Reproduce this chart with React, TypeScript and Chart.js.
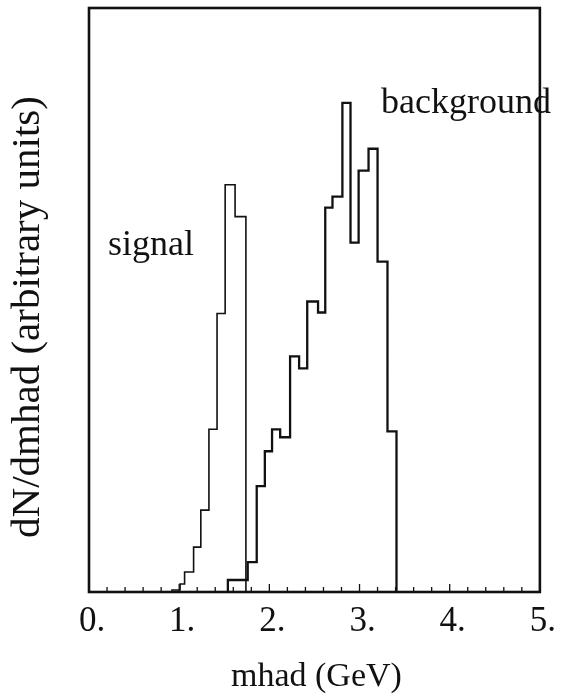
import React, { useEffect, useRef } from 'react';
import { Chart, registerables } from 'chart.js';

Chart.register(...registerables);

// Bin edges (GeV) and heights (arbitrary units)
const SIGNAL_EDGES = [0.92, 1.01, 1.06, 1.16, 1.24, 1.33, 1.42, 1.51, 1.62, 1.74];
const SIGNAL_VALUES = [2, 8, 20, 45, 82, 163, 279, 408, 376];
const BG_EDGES = [1.54, 1.76, 1.86, 1.95, 2.03, 2.12, 2.23, 2.33, 2.42, 2.54, 2.62, 2.7, 2.81, 2.9, 2.99, 3.1, 3.2, 3.31, 3.41];
const BG_VALUES = [12, 30, 106, 141, 163, 155, 236, 224, 291, 280, 385, 396, 490, 350, 422, 444, 331, 161];
const X_TICK_LABELS = ['0.', '1.', '2.', '3.', '4.', '5.'];
const X_MIN = 0;
const X_MAX = 5;
const Y_MAX = 585;
const X_TITLE = 'mhad (GeV)';
const Y_TITLE = 'dN/dmhad (arbitrary units)';
const SIGNAL_LABEL = 'signal';
const BG_LABEL = 'background';

const FONT = "'Liberation Serif', 'Times New Roman', serif";
const INK = '#111';

function outline(edges: number[], values: number[]) {
  const pts: { x: number; y: number }[] = [{ x: edges[0], y: 0 }];
  values.forEach((v, i) => {
    pts.push({ x: edges[i], y: v });
    pts.push({ x: edges[i + 1], y: v });
  });
  pts.push({ x: edges[edges.length - 1], y: 0 });
  return pts;
}

const decorPlugin = {
  id: 'decor',
  afterDatasetsDraw(chart: any) {
    const { ctx, chartArea: a, scales } = chart;
    const xs = scales.x;
    ctx.save();
    ctx.strokeStyle = INK;
    ctx.fillStyle = INK;
    // frame
    ctx.lineWidth = 2.6;
    ctx.strokeRect(a.left, a.top, a.right - a.left, a.bottom - a.top);
    // inward ticks every 0.2
    ctx.lineWidth = 1.3;
    for (let k = 1; k < 25; k++) {
      const v = k * 0.2;
      const px = xs.getPixelForValue(v);
      const len = k % 5 === 0 ? 8 : 5;
      ctx.beginPath();
      ctx.moveTo(px, a.bottom);
      ctx.lineTo(px, a.bottom - len);
      ctx.stroke();
    }
    // axis titles
    ctx.font = `34px ${FONT}`;
    ctx.textAlign = 'center';
    ctx.textBaseline = 'middle';
    ctx.fillText(X_TITLE, (a.left + a.right) / 2 + 2, 677);
    ctx.save();
    ctx.translate(28, 317);
    ctx.rotate(-Math.PI / 2);
    ctx.font = `41px ${FONT}`;
    ctx.fillText(Y_TITLE, 0, 0);
    ctx.restore();
    // series annotations
    ctx.font = `36px ${FONT}`;
    ctx.textBaseline = 'alphabetic';
    ctx.textAlign = 'left';
    ctx.fillText(SIGNAL_LABEL, 108, 255);
    ctx.textAlign = 'right';
    ctx.fillText(BG_LABEL, 551, 113);
    ctx.restore();
  },
};

export default function App() {
  const ref = useRef<HTMLCanvasElement | null>(null);
  useEffect(() => {
    if (!ref.current) return;
    const chart = new Chart(ref.current, {
      type: 'scatter',
      data: {
        datasets: [
          {
            label: SIGNAL_LABEL,
            data: outline(SIGNAL_EDGES, SIGNAL_VALUES),
            showLine: true,
            borderColor: INK,
            borderWidth: 1.6,
            pointRadius: 0,
            tension: 0,
            fill: false,
          },
          {
            label: BG_LABEL,
            data: outline(BG_EDGES, BG_VALUES),
            showLine: true,
            borderColor: INK,
            borderWidth: 2.3,
            pointRadius: 0,
            tension: 0,
            fill: false,
          },
        ],
      },
      options: {
        animation: false,
        responsive: false,
        devicePixelRatio: 1,
        layout: { padding: { left: 0, top: 8, right: 14, bottom: 0 } },
        plugins: { legend: { display: false }, tooltip: { enabled: false } },
        scales: {
          x: {
            type: 'linear',
            position: 'bottom',
            min: X_MIN,
            max: X_MAX,
            grid: { display: false, drawTicks: false },
            border: { display: false },
            ticks: {
              stepSize: 1,
              autoSkip: false,
              maxRotation: 0,
              padding: 9,
              labelOffset: 3,
              color: INK,
              font: { family: FONT, size: 35 },
              callback: (v: any) => X_TICK_LABELS[Math.round(Number(v))] ?? '',
            },
            afterFit: (s: any) => {
              s.height = 104;
            },
          },
          y: {
            type: 'linear',
            min: 0,
            max: Y_MAX,
            grid: { display: false, drawTicks: false },
            border: { display: false },
            ticks: { display: false },
            afterFit: (s: any) => {
              s.width = 89;
            },
          },
        },
      },
      plugins: [decorPlugin],
    });
    return () => chart.destroy();
  }, []);
  return (
    <div style={{ position: 'absolute', left: 0, top: 0, width: 562, height: 696, background: '#fff' }}>
      <canvas ref={ref} width={562} height={696} style={{ width: 562, height: 696, display: 'block' }} />
    </div>
  );
}
